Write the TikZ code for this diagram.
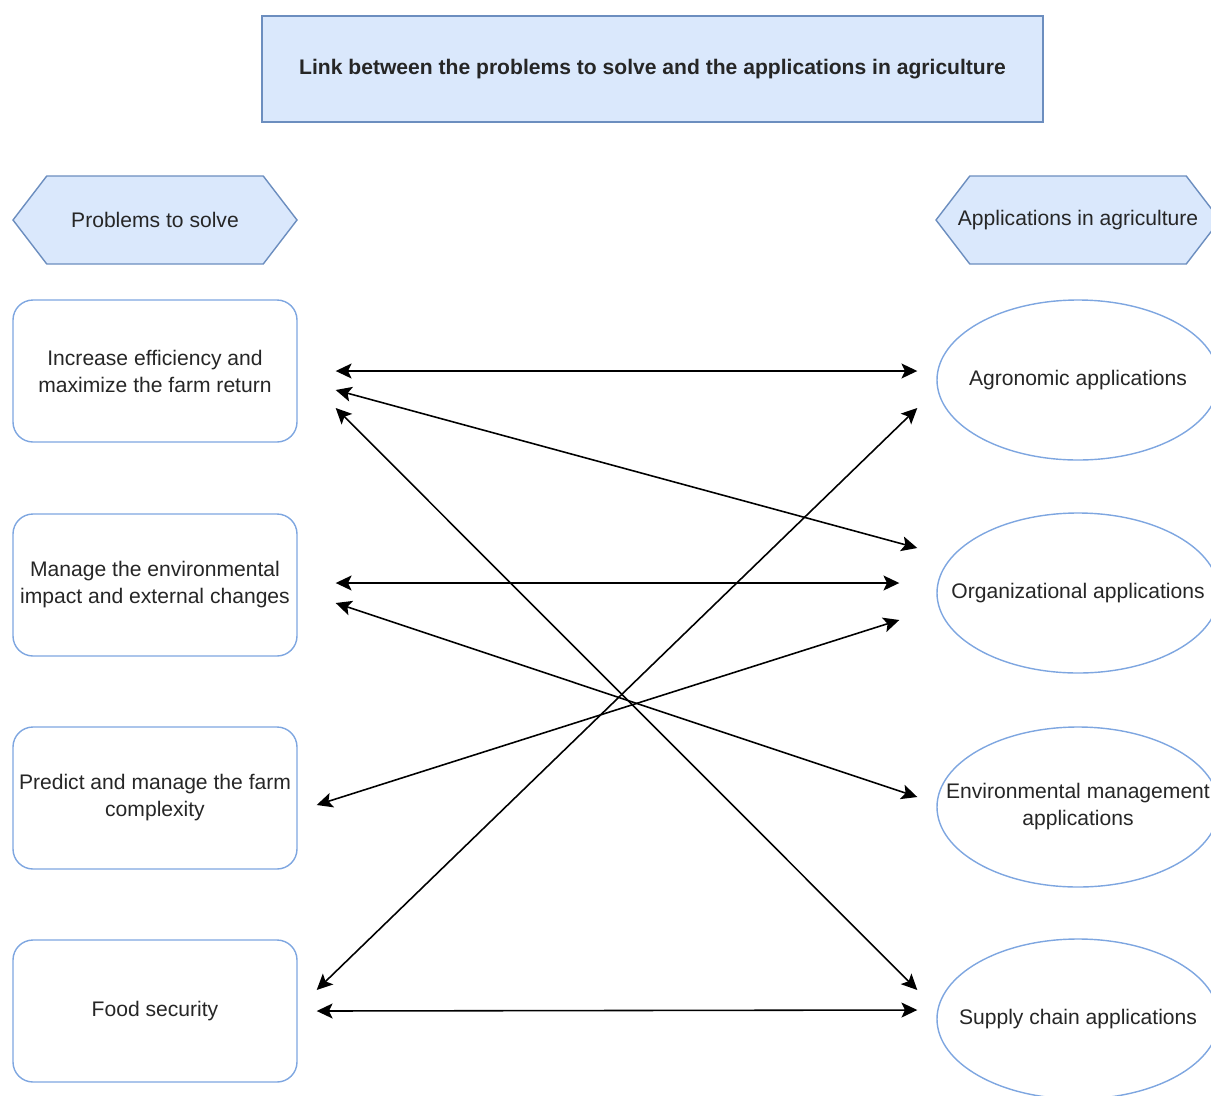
\documentclass[tikz,border=0pt]{standalone}
\usepackage{fontspec}
\setmainfont{Liberation Sans}
\usepackage{tikz}
\usetikzlibrary{positioning, shapes.symbols, shapes.geometric, arrows.meta}

\definecolor{headfill}{HTML}{DAE8FC}
\definecolor{headline}{HTML}{6C8EBF}
\definecolor{boxline}{HTML}{7EA6E0}

\tikzset{
    title/.style={draw=headline, fill=headfill, line width=0.8pt, minimum width=15.62cm, minimum height=2.12cm, font=\fontsize{12}{15.4}\selectfont\bfseries},
    hexa/.style={signal, signal to=west and east, signal pointer angle=105, draw=headline, fill=headfill, line width=0.8pt, minimum width=5.68cm, minimum height=1.76cm, inner xsep=-0.6cm},
    problem/.style={draw=boxline, rounded corners=0.4cm, line width=0.8pt, minimum width=5.68cm, minimum height=2.84cm, align=center},
    appl/.style={ellipse, draw=boxline, line width=0.8pt, minimum width=5.64cm, minimum height=3.2cm, align=center, inner xsep=-0.8cm, inner ysep=0pt},
    link/.style={{Stealth[length=9pt,width=8.5pt,inset=2pt]}-{Stealth[length=9pt,width=8.5pt,inset=2pt]}, line width=0.9pt}
}

\begin{document}
\begin{tikzpicture}[node distance=4.26cm, on grid, font=\fontsize{12}{15.4}\selectfont, text=black!85]
        \clip (0,0) rectangle (24.22,-21.9);

        % Define the nodes
        \node[title] (head) at (13.05,-1.38) {Link between the problems to solve and the applications in agriculture};
        \node[hexa] (probs) at (3.10,-4.40) {Problems to solve};
        \node[hexa] (apps) at (21.56,-4.40) {Applications in agriculture};

        \node[problem] (p_1) [below=3.02cm of probs] {Increase efficiency and\\maximize the farm return};
        \node[problem] (p_2) [below=4.28cm of p_1] {Manage the environmental\\impact and external changes};
        \node[problem] (p_3) [below=of p_2] {Predict and manage the farm\\complexity};
        \node[problem] (p_4) [below=of p_3] {Food security};

        \node[appl] (a_1) [below=3.20cm of apps] {Agronomic applications};
        \node[appl] (a_2) [below=of a_1] {Organizational applications};
        \node[appl] (a_3) [below=4.28cm of a_2] {Environmental management\\applications};
        \node[appl] (a_4) [below=4.24cm of a_3] {Supply chain applications};

        % Define the link ends
        \coordinate (p_1a) at ([shift={(0.76,0)}]p_1.east);
        \coordinate (p_1b) at ([shift={(0.76,-0.38)}]p_1.east);
        \coordinate (p_1c) at ([shift={(0.76,-0.74)}]p_1.east);
        \coordinate (p_2a) at ([shift={(0.76,0.04)}]p_2.east);
        \coordinate (p_2b) at ([shift={(0.76,-0.36)}]p_2.east);
        \coordinate (p_3a) at ([shift={(0.38,-0.14)}]p_3.east);
        \coordinate (p_4a) at ([shift={(0.38,0.42)}]p_4.east);
        \coordinate (p_4b) at ([shift={(0.38,0)}]p_4.east);

        \coordinate (a_1a) at ([shift={(-0.38,0.18)}]a_1.west);
        \coordinate (a_1b) at ([shift={(-0.38,-0.56)}]a_1.west);
        \coordinate (a_2a) at ([shift={(-0.38,0.90)}]a_2.west);
        \coordinate (a_2b) at ([shift={(-0.74,0.20)}]a_2.west);
        \coordinate (a_2c) at ([shift={(-0.74,-0.54)}]a_2.west);
        \coordinate (a_3a) at ([shift={(-0.38,0.20)}]a_3.west);
        \coordinate (a_4a) at ([shift={(-0.38,0.58)}]a_4.west);
        \coordinate (a_4b) at ([shift={(-0.38,0.18)}]a_4.west);

        % Define the links
        \path[link]
        (p_1a) edge (a_1a)
        (p_1b) edge (a_2a)
        (p_1c) edge (a_4a)
        (p_2a) edge (a_2b)
        (p_2b) edge (a_3a)
        (p_3a) edge (a_2c)
        (p_4a) edge (a_1b)
        (p_4b) edge (a_4b);

    \end{tikzpicture}
\end{document}
